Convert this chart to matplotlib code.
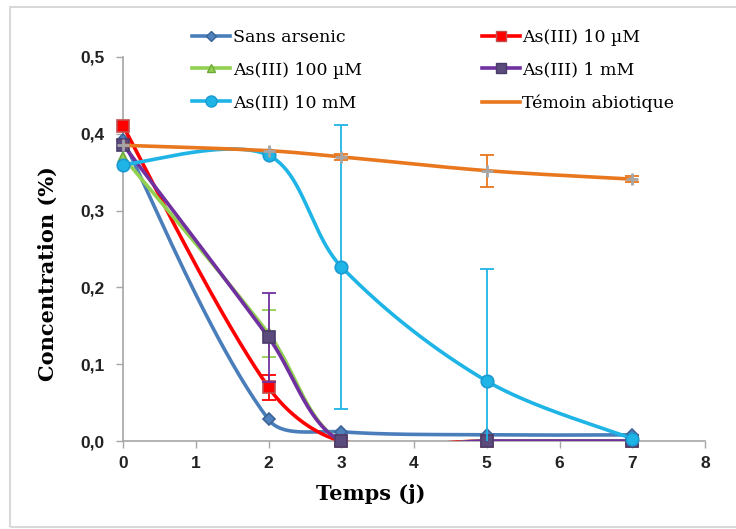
import numpy as np
import matplotlib
matplotlib.use("Agg")
import matplotlib.pyplot as plt
from matplotlib.lines import Line2D
from matplotlib.patches import Rectangle

days = [0, 2, 3, 5, 7]
labels = ["Sans arsenic", "As(III) 10 µM", "As(III) 100 µM", "As(III) 1 mM", "As(III) 10 mM", "Témoin abiotique"]
sans_arsenic = [0.392, 0.028, 0.012, 0.008, 0.008]
as_10uM = [0.410, 0.070, 0.000, 0.000, 0.000]
as_100uM = [0.370, 0.140, 0.000, 0.000, 0.000]
as_1mM = [0.386, 0.135, 0.000, 0.000, 0.000]
as_10mM = [0.360, 0.372, 0.227, 0.078, 0.003]
temoin = [0.385, 0.378, 0.370, 0.352, 0.341]

err_10uM = [0, 0.016, 0, 0, 0]
err_100uM = [0, 0.030, 0, 0, 0]
err_1mM = [0, 0.058, 0, 0, 0]
err_10mM = [0, 0, 0.185, 0.146, 0]
err_temoin = [0, 0, 0.004, 0.021, 0.004]

colors = ["#4a7ebb", "#ff0000", "#92d050", "#7030a0", "#1fb4e6", "#e8771e"]
mfc = ["#4f81bd", "#ff0000", "#92d050", "#5b4a7c", "#1fb4e6", "#bfbfbf"]
mec = ["#3a6496", "#c0504d", "#6fa83a", "#4a3c6a", "#1a9ad0", "#a6a6a6"]
markers = ["D", "s", "^", "s", "o", "+"]
msizes = [6, 8, 7, 8, 9, 8]

series = [sans_arsenic, as_10uM, as_100uM, as_1mM, as_10mM, temoin]
errs = [None, err_10uM, err_100uM, err_1mM, err_10mM, err_temoin]

W, H = 736, 529
fig = plt.figure(figsize=(W / 100, H / 100), dpi=100)
fig.patch.set_facecolor("white")
fig.patches.append(Rectangle((10 / W, 2 / H), 730 / W, 520 / H, transform=fig.transFigure,
                             fill=False, edgecolor="#d9d9d9", linewidth=1.5))

ax = fig.add_axes([123 / W, 1 - 441 / H, 582 / W, 384 / H])
ax.set_xlim(0, 8)
ax.set_ylim(0, 0.5)

# smoothing in screen space (Excel-like smoothed line)
sx = 582 / 8
sy = 384 / 0.5


def smooth(xs, ys, n=50):
    P = np.column_stack([np.array(xs, float) * sx, np.array(ys, float) * sy])
    m = len(P)
    outh = []
    inh = []
    for i in range(m):
        pp = P[i - 1] if i > 0 else P[i]
        pn = P[i + 1] if i < m - 1 else P[i]
        T = (pn - pp) / 6.0
        lp = np.linalg.norm(P[i] - pp)
        ln = np.linalg.norm(pn - P[i])
        if i == 0 or i == m - 1:
            outh.append(T)
            inh.append(T)
        else:
            outh.append(T * 2 * ln / (lp + ln))
            inh.append(T * 2 * lp / (lp + ln))
    out = [P[0]]
    for i in range(m - 1):
        p1 = P[i]
        p2 = P[i + 1]
        c1 = p1 + outh[i]
        c2 = p2 - inh[i + 1]
        t = np.linspace(0, 1, n)[1:, None]
        seg = ((1 - t) ** 3) * p1 + 3 * ((1 - t) ** 2) * t * c1 + 3 * (1 - t) * t ** 2 * c2 + t ** 3 * p2
        out.extend(seg)
    out = np.array(out)
    return out[:, 0] / sx, out[:, 1] / sy


for i, (ys, e) in enumerate(zip(series, errs)):
    z = 3 + i
    sxs, sys_ = smooth(days, ys)
    ax.plot(sxs, sys_, color=colors[i], lw=2.6, zorder=z, solid_capstyle="round", clip_on=True)
    if e is not None:
        xe = [d for d, v in zip(days, e) if v > 0]
        ye = [y for y, v in zip(ys, e) if v > 0]
        ee = [v for v in e if v > 0]
        ax.errorbar(xe, ye, yerr=ee, fmt="none", ecolor=colors[i], elinewidth=1.3,
                    capsize=5, capthick=1.3, zorder=z)
    ax.plot(days, ys, linestyle="none", marker=markers[i], markersize=msizes[i],
            markerfacecolor=mfc[i], markeredgecolor=mec[i], markeredgewidth=1.2 if i != 5 else 2,
            zorder=z + 0.5, clip_on=False)

for s in ["top", "right"]:
    ax.spines[s].set_visible(False)
for s in ["left", "bottom"]:
    ax.spines[s].set_color("#a6a6a6")
    ax.spines[s].set_linewidth(1.2)

ax.set_xticks(range(0, 9))
ax.set_yticks([0, 0.1, 0.2, 0.3, 0.4, 0.5])
ax.set_yticklabels(["0,0", "0,1", "0,2", "0,3", "0,4", "0,5"])
ax.tick_params(axis="both", colors="#a6a6a6", length=5, width=1, labelcolor="#222222")
for lab in ax.get_xticklabels() + ax.get_yticklabels():
    lab.set_fontfamily("Liberation Sans")
    lab.set_fontweight("bold")
    lab.set_fontsize(12.5)
ax.tick_params(axis="x", pad=6)
ax.tick_params(axis="y", pad=8)

ax.set_xlabel("Temps (j)", fontfamily="DejaVu Serif", fontweight="bold", fontsize=15)
ax.set_ylabel("Concentration (%)", fontfamily="DejaVu Serif", fontweight="bold", fontsize=15)
ax.xaxis.set_label_coords(0.425, -0.112)
ax.yaxis.set_label_coords(-0.112, 0.435)

handles = []
for i in range(6):
    if i == 5:
        h = Line2D([], [], color=colors[i], lw=2.6)
    else:
        h = Line2D([], [], color=colors[i], lw=2.6, marker=markers[i], markersize=msizes[i] - 1,
                   markerfacecolor=mfc[i], markeredgecolor=mec[i])
    handles.append(h)
order = [0, 2, 4, 1, 3, 5]
leg = fig.legend([handles[k] for k in order], [labels[k] for k in order], ncol=2,
                 loc="upper left", bbox_to_anchor=(185 / W, 1 - 22 / H), frameon=False,
                 prop={"family": "DejaVu Serif", "size": 12.5}, handlelength=2.2,
                 handletextpad=0.15, columnspacing=6.9, labelspacing=0.9, borderaxespad=0)

fig.savefig("out.png", dpi=100, facecolor="white")
